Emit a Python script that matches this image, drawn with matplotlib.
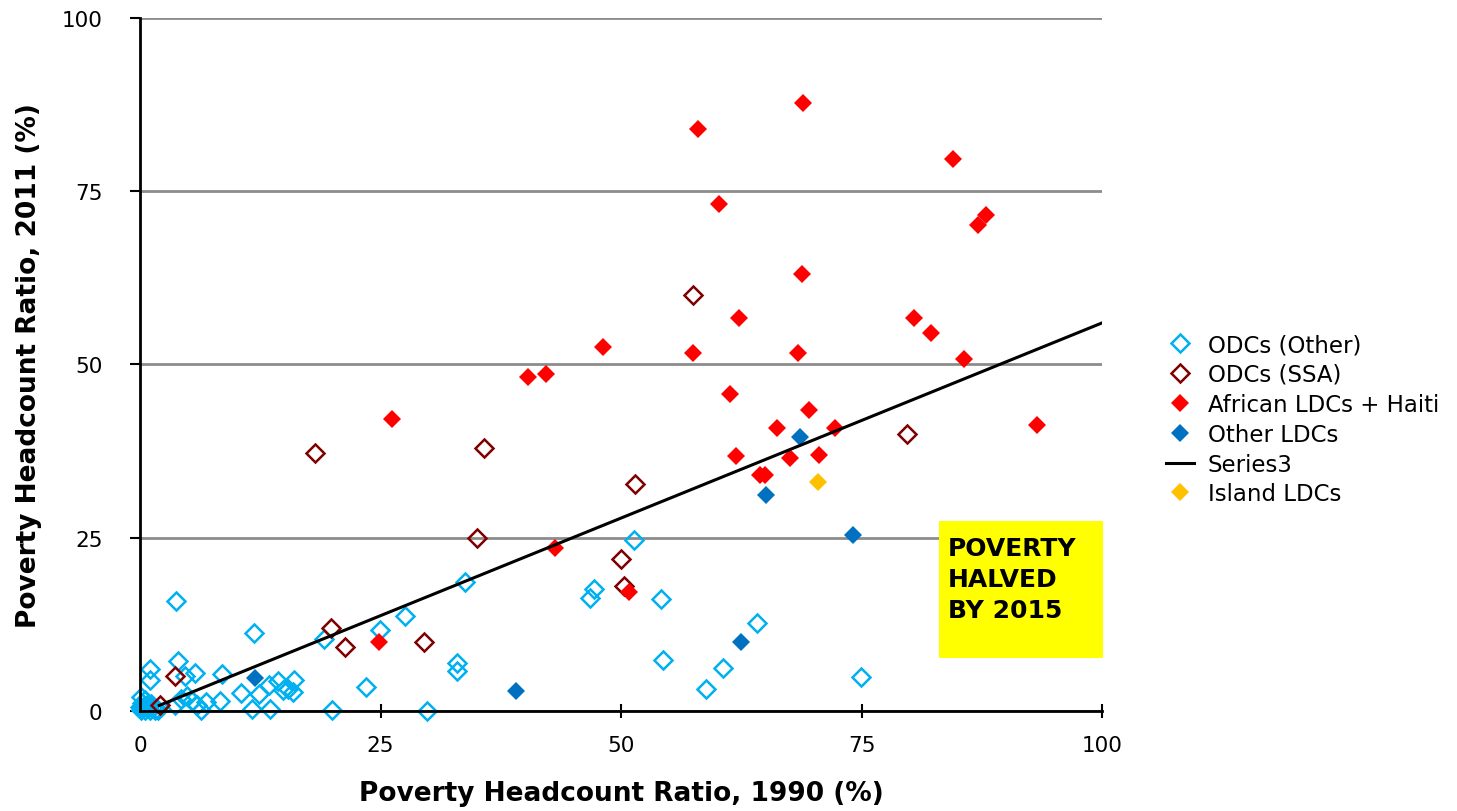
import matplotlib
matplotlib.use('Agg')
import matplotlib.pyplot as plt
from matplotlib.patches import Rectangle

# ODCs (Other) - light blue hollow diamonds
odc_other_x = [0.1, 0.3, 0.5, 0.2, 0.8, 1.0, 1.3, 1.6, 0.5, 0.7, 1.9, 0.1, 0.0, 1.1,
               3.7, 11.8, 1.0, 1.0, 4.0, 4.7, 5.7, 8.5, 10.5, 12.4, 11.6, 13.5, 8.3,
               3.6, 4.3, 4.9, 5.4, 5.9, 6.3, 6.9,
               13.4, 14.3, 14.9, 16.0, 15.9, 15.4,
               19.1, 24.9, 27.5, 33.8, 33.0, 32.9, 23.5, 20.0, 29.8,
               47.2, 46.8, 54.2, 51.3, 54.4, 64.1, 60.6, 58.8, 74.9]
odc_other_y = [0.2, 0.6, 0.1, 1.1, 0.4, 0.1, 0.5, 0.2, 1.6, 0.9, 0.1, 2.0, 0.5, 1.0,
               15.9, 11.3, 6.1, 4.4, 7.2, 5.0, 5.5, 5.3, 2.6, 2.5, 0.3, 0.3, 1.4,
               0.8, 1.7, 2.2, 1.4, 0.8, 0.2, 1.3,
               3.8, 4.3, 3.0, 4.5, 2.7, 3.2,
               10.4, 11.7, 13.7, 18.6, 6.9, 5.7, 3.4, 0.2, 0.0,
               17.6, 16.3, 16.2, 24.6, 7.3, 12.7, 6.2, 3.2, 4.9]

# ODCs (SSA) - dark red hollow diamonds
odc_ssa_x = [2.1, 3.6, 18.2, 35.8, 19.8, 21.3, 29.5, 35.0, 50.0, 50.3, 51.4, 57.5, 79.7]
odc_ssa_y = [0.8, 5.1, 37.2, 38.0, 11.9, 9.3, 9.9, 24.9, 21.9, 18.1, 32.8, 60.0, 39.9]

# African LDCs + Haiti - red filled diamonds
afr_x = [68.9, 58.0, 84.5, 60.2, 87.9, 87.1, 68.8, 62.3, 80.5, 82.2, 48.1, 57.5, 68.4,
         85.6, 40.3, 42.2, 61.3, 69.5, 66.2, 72.2, 93.2, 62.0, 67.6, 70.6, 64.4, 65.0,
         26.2, 43.1, 50.8, 24.8]
afr_y = [87.8, 84.0, 79.7, 73.2, 71.6, 70.2, 63.0, 56.7, 56.7, 54.6, 52.5, 51.6, 51.6,
         50.8, 48.2, 48.6, 45.7, 43.5, 40.8, 40.8, 41.3, 36.8, 36.5, 36.9, 34.0, 34.0,
         42.1, 23.5, 17.1, 10.0]

# Other LDCs - blue filled diamonds
oth_ldc_x = [68.6, 65.1, 74.1, 62.5, 39.1, 12.0]
oth_ldc_y = [39.6, 31.2, 25.4, 10.0, 2.9, 4.7]

# Series3 - reference line
series3_x = [2.0, 100.0]
series3_y = [0.8, 56.0]

# Island LDCs - yellow filled diamond
island_x = [70.5]
island_y = [33.1]

ticks = [0, 25, 50, 75, 100]

plt.rcParams['font.family'] = ['DejaVu Sans']

fig = plt.figure(figsize=(14.57, 8.12), dpi=100)
ax = fig.add_axes([0.0961, 0.1232, 0.6603, 0.8534])

hollow = dict(linestyle='none', marker='D', markersize=9.5, markeredgewidth=1.8,
              markerfacecolor='none', clip_on=False)
filled = dict(linestyle='none', marker='D', markersize=9, markeredgewidth=0,
              clip_on=False)

ax.plot(odc_other_x, odc_other_y, markeredgecolor='#00B0F0', label='ODCs (Other)', **hollow)
ax.plot(odc_ssa_x, odc_ssa_y, markeredgecolor='#800000', label='ODCs (SSA)', **hollow)
ax.plot(afr_x, afr_y, color='#FF0000', label='African LDCs + Haiti', **filled)
ax.plot(oth_ldc_x, oth_ldc_y, color='#0070C0', label='Other LDCs', **filled)
ax.plot(series3_x, series3_y, color='black', lw=2.2, label='Series3')
ax.plot(island_x, island_y, color='#FFC000', label='Island LDCs', **filled)

ax.set_xlim(0, 100)
ax.set_ylim(0, 100)
ax.set_xticks(ticks)
ax.set_yticks(ticks)
ax.yaxis.grid(True, color='#8C8C8C', lw=2)
ax.set_axisbelow(True)

for s in ['top', 'right']:
    ax.spines[s].set_visible(False)
for s in ['left', 'bottom']:
    ax.spines[s].set_linewidth(2)
ax.tick_params(axis='x', direction='inout', length=10, width=1.5, labelsize=15.5, pad=12)
ax.tick_params(axis='y', direction='out', length=7, width=1.5, labelsize=15.5, pad=20)

ax.set_xlabel('Poverty Headcount Ratio, 1990 (%)', fontsize=19, fontweight='bold', labelpad=18)
ax.set_ylabel('Poverty Headcount Ratio, 2011 (%)', fontsize=19, fontweight='bold', labelpad=14)

# yellow annotation box
ax.add_patch(Rectangle((0.83, 0.076), 0.171, 0.198, transform=ax.transAxes,
                       facecolor='#FFFF00', edgecolor='none', zorder=5, clip_on=False))
ax.text(0.84, 0.253, 'POVERTY\nHALVED\nBY 2015', transform=ax.transAxes, ha='left',
        va='top', fontsize=18, fontweight='bold', linespacing=1.38, zorder=6)

ax.legend(loc='center left', bbox_to_anchor=(1.055, 0.421), frameon=False, fontsize=16.5,
          handlelength=1.2, handletextpad=0.6, labelspacing=0.3, borderpad=0)

fig.savefig('out.png', dpi=100)
